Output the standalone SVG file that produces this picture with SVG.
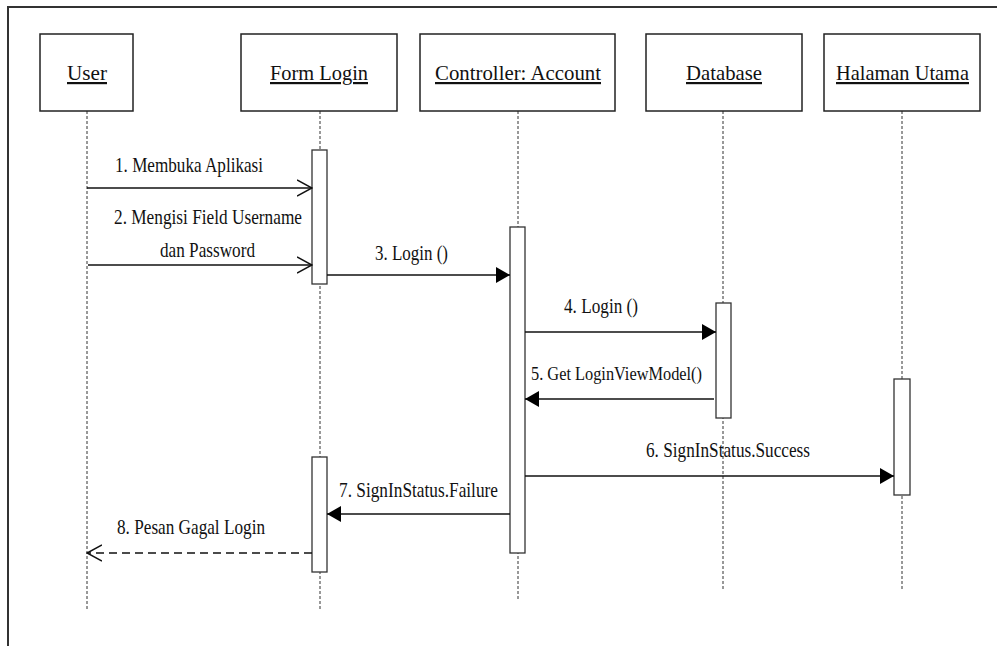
<svg xmlns="http://www.w3.org/2000/svg" width="997" height="646" viewBox="0 0 997 646">
  <style>
    .frame { fill: none; stroke: #333; stroke-width: 2; }
    .head { fill: #fff; stroke: #222; stroke-width: 1.5; }
    .head-label { font-size: 22px; fill: #111; text-decoration: underline; }
    .life { stroke: #333; stroke-width: 1; stroke-dasharray: 3 2; fill: none; }
    .act { fill: #fff; stroke: #333; stroke-width: 1.3; }
    .msg { stroke: #111; stroke-width: 1.6; fill: none; }
    .reply { stroke: #111; stroke-width: 1.6; fill: none; stroke-dasharray: 8 5; }
    .label { font-size: 21px; fill: #111; }
    .small { font-size: 19px; }
  </style>
  <defs>
    <marker id="open" viewBox="0 0 16 18" refX="15" refY="9" markerWidth="16" markerHeight="18" markerUnits="userSpaceOnUse" orient="auto">
      <path d="M0,1 L15,9 L0,17" fill="none" stroke="#111" stroke-width="1.5"/>
    </marker>
    <marker id="solid" viewBox="0 0 14 16" refX="14" refY="8" markerWidth="14" markerHeight="16" markerUnits="userSpaceOnUse" orient="auto">
      <path d="M0,0 L14,8 L0,16 Z" fill="#000"/>
    </marker>
  </defs>

  <!-- outer frame -->
  <path class="frame" d="M8,646 L8,7 L997,7"/>

  <!-- lifelines -->
  <g id="lifelines">
    <line class="life" x1="87" y1="111" x2="87" y2="610"/>
    <line class="life" x1="320" y1="111" x2="320" y2="610"/>
    <line class="life" x1="518" y1="111" x2="518" y2="600"/>
    <line class="life" x1="723" y1="111" x2="723" y2="590"/>
    <line class="life" x1="902" y1="111" x2="902" y2="590"/>
  </g>

  <!-- participants -->
  <g id="user">
    <rect class="head" x="40" y="34" width="93" height="77"/>
    <text class="head-label" font-family="Liberation Serif, serif" x="67" y="80" textLength="40" lengthAdjust="spacingAndGlyphs">User</text>
  </g>
  <g id="form-login">
    <rect class="head" x="241" y="34" width="156" height="77"/>
    <text class="head-label" font-family="Liberation Serif, serif" x="270" y="80" textLength="98" lengthAdjust="spacingAndGlyphs">Form Login</text>
    <rect class="act" x="312" y="150" width="15" height="134"/>
    <rect class="act" x="312" y="457" width="15" height="115"/>
  </g>
  <g id="controller-account">
    <rect class="head" x="420" y="34" width="195" height="77"/>
    <text class="head-label" font-family="Liberation Serif, serif" x="435" y="80" textLength="166" lengthAdjust="spacingAndGlyphs">Controller: Account</text>
    <rect class="act" x="510" y="227" width="15" height="326"/>
  </g>
  <g id="database">
    <rect class="head" x="646" y="34" width="156" height="77"/>
    <text class="head-label" font-family="Liberation Serif, serif" x="686" y="80" textLength="76" lengthAdjust="spacingAndGlyphs">Database</text>
    <rect class="act" x="716" y="303" width="15" height="115"/>
  </g>
  <g id="halaman-utama">
    <rect class="head" x="824" y="34" width="156" height="77"/>
    <text class="head-label" font-family="Liberation Serif, serif" x="836" y="80" textLength="133" lengthAdjust="spacingAndGlyphs">Halaman Utama</text>
    <rect class="act" x="894" y="379" width="16" height="116"/>
  </g>

  <!-- messages -->
  <g id="connectors">
    <line class="msg" x1="87" y1="188" x2="312" y2="188" marker-end="url(#open)"/>
    <line class="msg" x1="88" y1="265" x2="312" y2="265" marker-end="url(#open)"/>
    <line class="msg" x1="327" y1="275" x2="510" y2="275" marker-end="url(#solid)"/>
    <line class="msg" x1="525" y1="332" x2="716" y2="332" marker-end="url(#solid)"/>
    <line class="msg" x1="714" y1="399" x2="525" y2="399" marker-end="url(#solid)"/>
    <line class="msg" x1="525" y1="476" x2="894" y2="476" marker-end="url(#solid)"/>
    <line class="msg" x1="510" y1="514" x2="327" y2="514" marker-end="url(#solid)"/>
    <line class="reply" x1="312" y1="553" x2="87" y2="553" marker-end="url(#open)"/>
  </g>

  <!-- message labels -->
  <g id="labels">
    <text class="label" font-family="Liberation Serif, serif" x="115" y="172" textLength="148" lengthAdjust="spacingAndGlyphs">1. Membuka Aplikasi</text>
    <text class="label" font-family="Liberation Serif, serif" x="114" y="224" textLength="188" lengthAdjust="spacingAndGlyphs">2. Mengisi Field Username</text>
    <text class="label" font-family="Liberation Serif, serif" x="160" y="257" textLength="95" lengthAdjust="spacingAndGlyphs">dan Password</text>
    <text class="label" font-family="Liberation Serif, serif" x="375" y="260" textLength="73" lengthAdjust="spacingAndGlyphs">3. Login ()</text>
    <text class="label" font-family="Liberation Serif, serif" x="564" y="313" textLength="74" lengthAdjust="spacingAndGlyphs">4. Login ()</text>
    <text class="label small" font-family="Liberation Serif, serif" x="531" y="380" textLength="171" lengthAdjust="spacingAndGlyphs">5. Get LoginViewModel()</text>
    <text class="label" font-family="Liberation Serif, serif" x="646" y="457" textLength="164" lengthAdjust="spacingAndGlyphs">6. SignInStatus.Success</text>
    <text class="label" font-family="Liberation Serif, serif" x="339" y="497" textLength="159" lengthAdjust="spacingAndGlyphs">7. SignInStatus.Failure</text>
    <text class="label" font-family="Liberation Serif, serif" x="117" y="534" textLength="148" lengthAdjust="spacingAndGlyphs">8. Pesan Gagal Login</text>
  </g>
</svg>
